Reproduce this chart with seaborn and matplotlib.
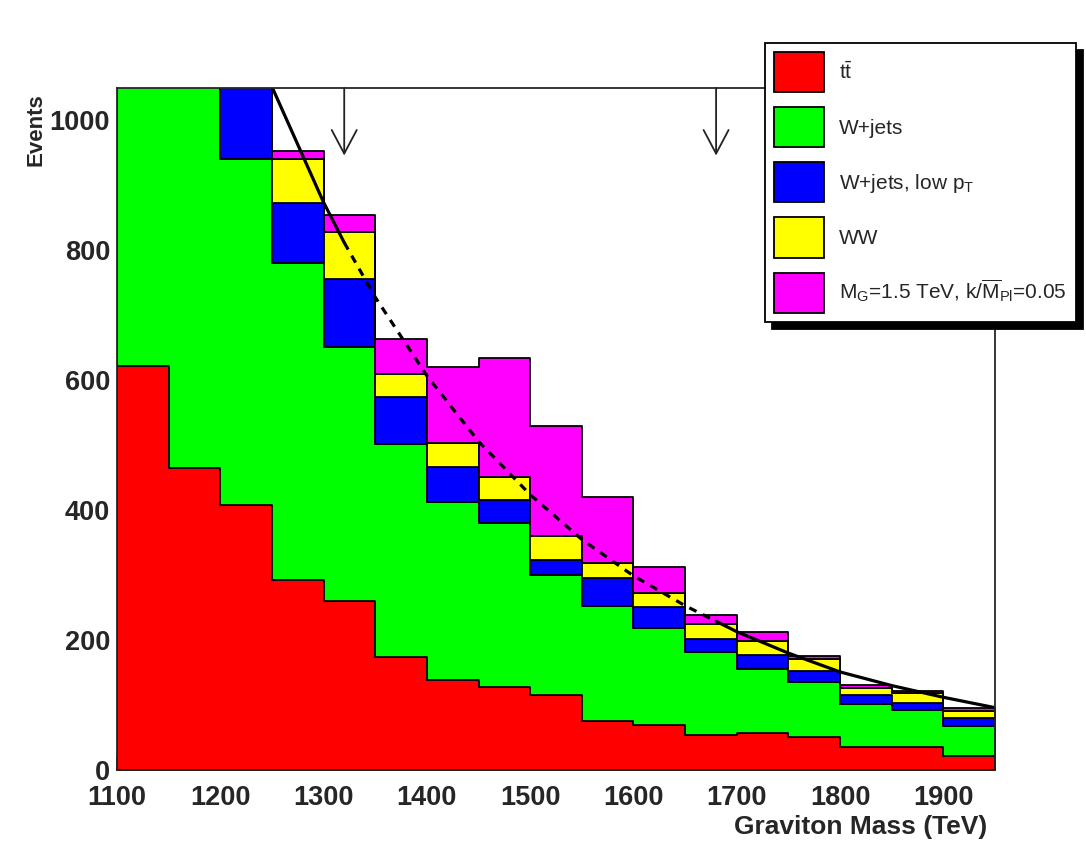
import numpy as np
import pandas as pd
import seaborn as sns
import matplotlib.pyplot as plt
from matplotlib.patches import Patch
from matplotlib.ticker import MultipleLocator

sns.set_style("ticks")
plt.rcParams['font.family'] = ['Liberation Sans', 'DejaVu Sans']
plt.rcParams['mathtext.fontset'] = 'custom'
plt.rcParams['mathtext.rm'] = 'Liberation Sans'
plt.rcParams['mathtext.it'] = 'Liberation Sans:italic'
plt.rcParams['mathtext.bf'] = 'Liberation Sans:bold'

# bin lower edges, bins are 50 wide
bin_low = [1100, 1150, 1200, 1250, 1300, 1350, 1400, 1450, 1500,
           1550, 1600, 1650, 1700, 1750, 1800, 1850, 1900]
bin_width = 50

# events per bin for each sample
ttbar = [622, 465, 408, 293, 260, 174, 139, 128, 116, 76, 69, 54, 57, 51, 36, 36, 22]
wjets = [528, 655, 532, 488, 392, 328, 273, 252, 184, 177, 150, 127, 98, 84, 66, 56, 46]
wjets_lowpt = [150, 130, 140, 92, 104, 73, 55, 36, 23, 42, 32, 20, 22, 18, 14, 11, 12]
ww = [40, 40, 40, 67, 72, 34, 37, 35, 37, 23, 22, 24, 21, 18, 10, 16, 11]
signal = [5, 5, 5, 13, 27, 55, 117, 183, 170, 103, 40, 13, 15, 4, 5, 3, 4]

# background fit curve
fit_mass = [1250, 1300, 1320, 1350, 1400, 1450, 1500, 1550, 1600,
            1650, 1680, 1700, 1750, 1800, 1850, 1900, 1950]
fit_events = [1052, 874, 812, 728, 607, 506, 424, 355, 299,
              253, 229, 213, 180, 151, 130, 112, 96]

# mass window
window = [1320, 1680]
arrow_tip = 946

names = ["tt", "W+jets", "W+jets, low pT", "WW", "signal"]
labels = [r"$\mathrm{t\bar{t}}$", "W+jets", r"W+jets, low p$_\mathrm{T}$", "WW",
          r"M$_\mathrm{G}$=1.5 TeV, k/$\overline{\mathrm{M}}_\mathrm{Pl}$=0.05"]
colors = ["#ff0000", "#00ff00", "#0000ff", "#ffff00", "#ff00ff"]
samples = [ttbar, wjets, wjets_lowpt, ww, signal]

rows = []
for name, vals in zip(names, samples):
    for lo, v in zip(bin_low, vals):
        rows.append({"mass": lo + bin_width / 2, "events": v, "process": name})
df = pd.DataFrame(rows)
edges = bin_low + [bin_low[-1] + bin_width]

fig = plt.figure(figsize=(10.86, 8.46), dpi=100)
ax = fig.add_axes([0.1077, 0.0898, 0.8085, 0.8062])

# seaborn stacks the last hue level at the bottom
sns.histplot(data=df, x="mass", weights="events", hue="process",
             hue_order=names[::-1], palette=dict(zip(names, colors)),
             multiple="stack", element="step", bins=edges, alpha=1,
             edgecolor="black", linewidth=1.3, legend=False, ax=ax)

fit = pd.DataFrame({"mass": fit_mass, "events": fit_events})
seg_a = fit[fit.mass <= window[0]]
seg_b = fit[(fit.mass >= window[0]) & (fit.mass <= window[1])]
seg_c = fit[fit.mass >= window[1]]
for seg, ls in [(seg_a, "-"), (seg_b, (0, (2.5, 2.2))), (seg_c, "-")]:
    sns.lineplot(data=seg, x="mass", y="events", color="black", lw=2.3,
                 linestyle=ls, ax=ax)

ax.set_xlim(1100, 1950)
ax.set_ylim(0, 1050)

for m in window:
    ax.annotate("", xy=(m, arrow_tip), xytext=(m, 1050),
                arrowprops=dict(arrowstyle="->,head_length=0.85,head_width=0.45",
                                mutation_scale=20, lw=1.3, color="#222222",
                                shrinkA=0, shrinkB=0))

ax.set_xticks(range(1100, 2000, 100))
ax.set_xticklabels([str(v) for v in range(1100, 2000, 100)], fontsize=19.5, fontweight="bold")
ax.set_yticks(range(0, 1001, 200))
ax.set_yticklabels([str(v) for v in range(0, 1001, 200)], fontsize=19.5, fontweight="bold")
ax.xaxis.set_minor_locator(MultipleLocator(20))
ax.yaxis.set_minor_locator(MultipleLocator(40))
ax.tick_params(which="both", direction="in", top=False, right=False, width=1.3)
ax.tick_params(which="major", length=9.5)
ax.tick_params(which="minor", length=5)
ax.tick_params(axis="y", pad=5)
ax.tick_params(axis="x", pad=10.5)
for s in ax.spines.values():
    s.set_linewidth(1.3)

ax.set_xlabel("Graviton Mass (TeV)", fontsize=19, fontweight="bold", loc="right")
ax.xaxis.set_label_coords(0.991, -0.066)
ax.set_ylabel("Events", fontsize=16, fontweight="bold", loc="top")
ax.yaxis.set_label_coords(-0.08, 0.993)

handles = [Patch(facecolor=c, edgecolor="black", linewidth=1.3) for c in colors]
leg = ax.legend(handles, labels, loc="upper left", bbox_to_anchor=(0.7044, 0.9492),
                bbox_transform=fig.transFigure, borderaxespad=0, fontsize=15,
                handlelength=2.4, handleheight=2.58, handletextpad=0.72,
                labelspacing=0.72, borderpad=0.45, fancybox=False, framealpha=1,
                edgecolor="black",
                shadow={"ox": 5, "oy": -5, "facecolor": "black",
                        "edgecolor": "black", "alpha": 1})
leg.get_frame().set_linewidth(1.3)

plt.savefig("out.png", dpi=100)
